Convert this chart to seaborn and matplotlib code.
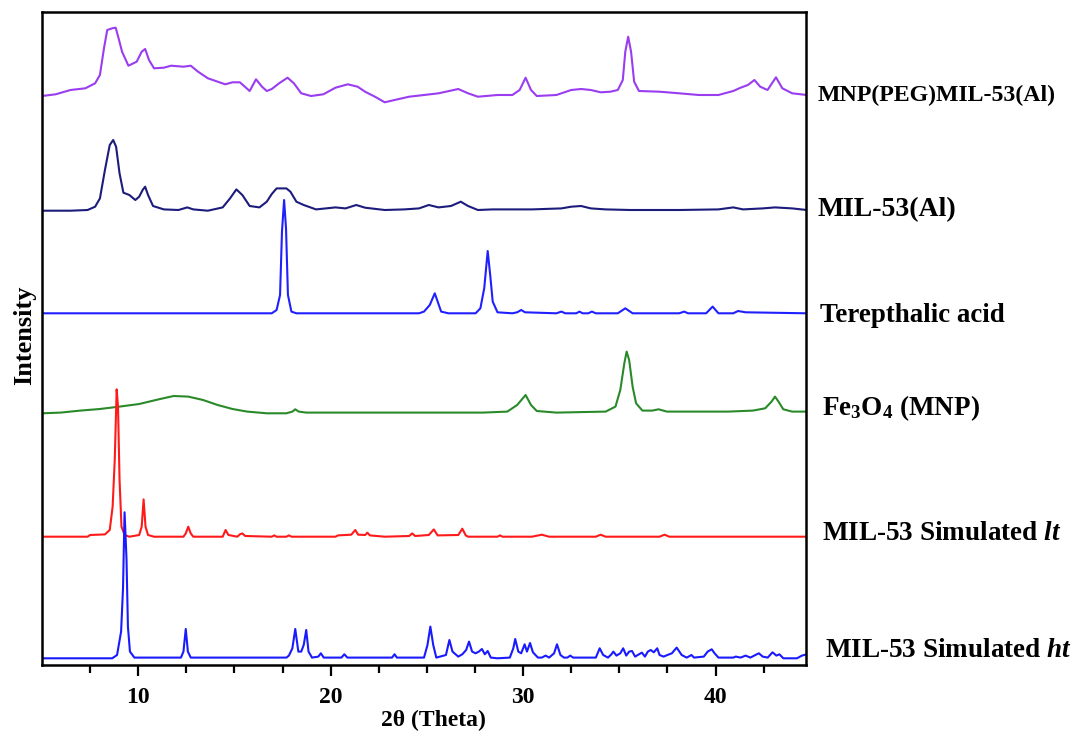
import numpy as np
import pandas as pd
import matplotlib
matplotlib.use("Agg")
import matplotlib.pyplot as plt
import seaborn as sns

# ---------------- data (2-theta in degrees, intensity in arbitrary units) ----------------
peg_x = [5.00, 5.71, 6.48, 7.25, 7.76, 8.01, 8.22, 8.39, 8.65, 8.83,
         8.98, 9.16, 9.49, 9.92, 10.18, 10.36, 10.56, 10.82, 11.33, 11.71,
         12.35, 12.73, 13.11, 13.62, 14.13, 14.52, 14.90, 15.28, 15.54, 15.79,
         16.12, 16.43, 16.68, 16.94, 17.32, 17.76, 18.09, 18.47, 18.98, 19.62,
         20.25, 20.89, 21.40, 21.79, 22.30, 22.81, 23.32, 24.08, 24.85, 25.61,
         26.63, 27.14, 27.65, 28.67, 29.44, 29.82, 30.13, 30.41, 30.71, 31.73,
         32.50, 33.01, 33.52, 34.03, 34.54, 34.92, 35.18, 35.31, 35.46, 35.61,
         35.77, 36.02, 37.09, 38.11, 39.13, 40.15, 40.92, 41.30, 41.68, 42.02,
         42.32, 42.70, 43.14, 43.47, 43.98, 44.74]
peg_y = [0, 1.7, 6, 7.7, 12.7, 21, 47.7, 66, 67.7, 68.3,
         57.7, 44.3, 30.3, 34.3, 44.3, 47, 36, 27.7, 28.3, 30.3,
         29.3, 30.3, 24.3, 17.7, 14.3, 11.7, 13.7, 13.7, 9.3, 5,
         16.7, 9.3, 5, 7, 12.7, 18.3, 12.7, 2.7, 0, 1.7,
         8.3, 11.7, 9.3, 4.3, -0.7, -6.3, -4, -0.7, 1, 2.7,
         7, 2.7, -0.7, 1, 1, 6, 18.3, 6, 0, 1,
         6, 7, 6, 3.7, 4.3, 6, 16, 44.3, 59.3, 44.3,
         14.3, 5, 4.3, 2.7, 1, 1, 5, 8.3, 11, 16,
         9.3, 6, 18.7, 7.7, 2.7, 1]

mil_x = [5.00, 6.48, 7.37, 7.76, 8.01, 8.27, 8.52, 8.70, 8.85, 9.03,
         9.23, 9.54, 9.85, 10.05, 10.23, 10.36, 10.51, 10.77, 11.33, 12.09,
         12.55, 12.86, 13.62, 14.39, 14.77, 15.10, 15.41, 15.79, 16.30, 16.68,
         16.94, 17.19, 17.70, 17.91, 18.22, 18.60, 19.24, 19.75, 20.25, 20.77,
         21.33, 21.79, 22.81, 23.83, 24.59, 25.10, 25.61, 26.25, 26.76, 27.14,
         27.65, 28.42, 30.46, 31.99, 32.50, 33.01, 33.52, 34.29, 35.56, 38.11,
         40.15, 40.92, 41.43, 42.45, 43.09, 43.98, 44.74]
mil_y = [0, 0, 0.7, 4, 12.3, 40.7, 65.7, 70.7, 64, 37.3,
         18, 15.7, 10.7, 14, 20.7, 24, 15.7, 4.7, 1.3, 0.7,
         3.3, 1.3, 0, 3.3, 12.3, 21.3, 15.7, 4.7, 3.3, 9,
         16.7, 22.3, 22.3, 19, 9, 5.7, 1.3, 2.3, 3.3, 2.3,
         5.7, 3, 0.7, 1.3, 2.3, 5.7, 3.3, 4.7, 9, 4.7,
         0.7, 1.3, 1.3, 2.3, 4, 4.7, 2.3, 1.3, 0.7, 0.7,
         1.3, 3.3, 1.3, 2.3, 3.3, 2.3, 0.7]

tpa_x = [5.00, 16.94, 17.19, 17.37, 17.47, 17.58, 17.68, 17.78, 17.96, 18.22,
         24.59, 24.85, 25.15, 25.41, 25.56, 25.74, 26.12, 27.53, 27.78, 27.98,
         28.16, 28.29, 28.42, 28.67, 29.44, 29.69, 29.90, 30.10, 31.73, 31.99,
         32.19, 32.76, 32.93, 33.09, 33.39, 33.57, 33.78, 34.92, 35.31, 35.69,
         38.11, 38.37, 38.57, 39.51, 39.85, 40.15, 40.92, 41.17, 41.56, 44.74]
tpa_y = [0, 0, 3.3, 18.3, 81.7, 113.3, 85, 18.3, 1.7, 0,
         0, 1.7, 8.3, 20, 11.7, 1.7, 0, 0, 5, 25,
         62.3, 38.3, 11.7, 1, 0, 1, 3.3, 1, 0, 1.7,
         0, 0, 1.7, 0, 0, 1.7, 0, 0, 5, 0,
         0, 1.7, 0, 0, 6.7, 0, 0, 2.3, 1, 0]

fe_x = [5.00, 5.97, 6.99, 8.01, 9.03, 10.05, 11.07, 11.84, 12.60, 13.37,
        14.13, 14.90, 15.66, 16.68, 17.70, 18.01, 18.16, 18.34, 18.73, 20.25,
        22.81, 25.36, 27.91, 29.18, 29.69, 30.13, 30.41, 30.71, 31.73, 34.29,
        34.80, 35.05, 35.26, 35.38, 35.51, 35.69, 35.87, 36.20, 36.71, 37.04,
        37.47, 38.62, 40.66, 41.94, 42.58, 42.91, 43.09, 43.27, 43.52, 43.98,
        44.74]
fe_y = [-1, -0.3, 1.7, 3.3, 5.7, 8.3, 13, 16.3, 15.7, 12.3,
        7.3, 3.3, 0.7, -1, -1, 0.7, 3, 0.7, -0.3, -0.3,
        -0.3, -0.3, -0.3, 0.7, 7.3, 17.3, 7.3, 1.3, -0.3, 0.7,
        5.7, 22.3, 49, 60.7, 52.3, 25.7, 9, 1.7, 1.7, 3,
        0.7, 0.7, 0.7, 1.7, 4, 10.7, 15.7, 10.7, 3, 0.7,
        0.7]

lt_x = [5.00, 7.37, 7.50, 8.27, 8.52, 8.67, 8.78, 8.88, 8.95, 9.03,
        9.13, 9.29, 9.54, 10.05, 10.18, 10.28, 10.38, 10.51, 10.82, 12.35,
        12.47, 12.60, 12.73, 12.86, 14.39, 14.54, 14.69, 15.15, 15.28, 15.41,
        15.56, 16.94, 17.07, 17.19, 17.70, 17.83, 17.96, 20.25, 20.38, 21.07,
        21.28, 21.43, 21.79, 21.91, 22.04, 22.81, 24.08, 24.24, 24.39, 25.10,
        25.36, 25.56, 26.63, 26.84, 27.02, 27.14, 28.67, 28.80, 28.93, 30.46,
        30.97, 31.35, 33.78, 34.03, 34.29, 37.09, 37.35, 37.60, 44.74]
lt_y = [0, 0, 1.7, 2.3, 6.7, 30, 76.7, 147.3, 130, 56.7,
        10, 1.7, 0, 1.7, 10, 37.3, 10, 1.7, 0, 0,
        3.3, 10, 3.3, 0, 0, 6.7, 1.7, 0, 2.3, 3.3,
        0.7, 0, 1.3, 0, 0, 1.3, 0, 0, 1.3, 2,
        6.7, 2, 1.7, 4, 1.3, 0, 0.7, 3.3, 0.7, 1.7,
        7.3, 1.3, 1.7, 8, 1.3, 0, 0, 1.3, 0, 0,
        2, 0, 0, 2, 0, 0, 2, 0, 0]

ht_x = [5.00, 8.65, 8.90, 9.11, 9.21, 9.29, 9.39, 9.465, 9.57, 9.80,
        12.22, 12.35, 12.47, 12.58, 12.73, 17.70, 17.83, 18.01, 18.16, 18.32,
        18.47, 18.60, 18.73, 18.85, 19.03, 19.36, 19.49, 19.64, 20.56, 20.71,
        20.87, 23.19, 23.32, 23.44, 24.85, 25.03, 25.18, 25.33, 25.49, 25.99,
        26.17, 26.33, 26.63, 26.84, 27.04, 27.19, 27.35, 27.53, 27.70, 27.86,
        28.01, 28.16, 28.32, 28.67, 29.31, 29.49, 29.59, 29.75, 29.90, 30.08,
        30.20, 30.36, 30.51, 30.77, 30.97, 31.17, 31.35, 31.61, 31.76, 31.94,
        32.12, 32.30, 32.45, 32.60, 33.78, 33.98, 34.16, 34.41, 34.59, 34.69,
        34.85, 35.05, 35.20, 35.36, 35.51, 35.66, 35.82, 36.02, 36.17, 36.33,
        36.48, 36.63, 36.79, 36.97, 37.09, 37.30, 37.50, 37.73, 37.98, 38.24,
        38.50, 38.75, 38.88, 39.39, 39.59, 39.80, 39.95, 40.15, 40.92, 41.05,
        41.30, 41.56, 41.81, 42.07, 42.25, 42.45, 42.71, 42.96, 43.16, 43.32,
        43.52, 44.23, 44.49, 44.74]
ht_y = [0, 0, 3.3, 26.7, 70, 146, 100, 31.7, 6.7, 0.7,
        0.7, 6.7, 29.3, 6.7, 0.7, 0.7, 2.7, 10, 29.3, 6.7,
        6.7, 13.3, 28.3, 6.7, 0.7, 1.7, 5, 0.7, 0.7, 4,
        0.7, 0.7, 4, 0.7, 0.7, 13.3, 31.7, 13.3, 0.7, 3.3,
        18.3, 6.7, 1.7, 4, 8.3, 16.7, 6.7, 5, 6.7, 9.3,
        4, 7.3, 0.7, 0, 0.7, 10, 19.3, 6.7, 5, 14,
        6.7, 15.3, 6, 0.7, 0.7, 2.7, 0.7, 5, 14, 3.3,
        0.7, 0.7, 2.7, 0.7, 0.7, 10, 3.3, 0.7, 4, 6.7,
        2.7, 5, 10, 2.7, 6.7, 7.3, 1.7, 4, 5.7, 1.7,
        6.7, 8.3, 6, 10, 3.3, 1.7, 3.3, 5, 10.7, 3.3,
        0.7, 3.3, 0.7, 1.7, 6.7, 9, 5, 0.7, 0.7, 1.7,
        0.7, 2.7, 0.7, 3.3, 5, 1.7, 0.7, 6, 2.7, 4,
        0, 0, 2.7, 4]

series_names = ["MNP(PEG)MIL-53(Al)", "MIL-53(Al)", "Terepthalic acid",
                "Fe$_3$O$_4$ (MNP)", "MIL-53 Simulated $lt$", "MIL-53 Simulated $ht$"]
series_offsets = [569, 454.3, 351.7, 252.7, 128.3, 6.7]
xticks_major = [10, 20, 30, 40]

# ---------------- style ----------------
sns.set_theme(style="ticks")
plt.rcParams["font.family"] = ["Liberation Serif", "DejaVu Serif"]
plt.rcParams["font.weight"] = "bold"
plt.rcParams["text.color"] = "black"
plt.rcParams["axes.labelcolor"] = "black"
plt.rcParams["xtick.color"] = "black"
plt.rcParams["ytick.color"] = "black"
plt.rcParams["mathtext.fontset"] = "custom"
plt.rcParams["mathtext.rm"] = "Liberation Serif:bold"
plt.rcParams["mathtext.it"] = "Liberation Serif:bold:italic"
plt.rcParams["mathtext.bf"] = "Liberation Serif:bold"

colors = ["#9a3cf0", "#1c1c7c", "#2020ff", "#2a8a2a", "#ff1a1a", "#1a1aff"]
xs = [peg_x, mil_x, tpa_x, fe_x, lt_x, ht_x]
ys = [peg_y, mil_y, tpa_y, fe_y, lt_y, ht_y]

fig = plt.figure(figsize=(10.78, 7.36), dpi=100)
ax = fig.add_axes([42 / 1078, 1 - 665 / 736, (806 - 42) / 1078, (665 - 12) / 736])

for name, x, y, off, c in zip(series_names, xs, ys, series_offsets, colors):
    df = pd.DataFrame({"two_theta": x, "intensity": off + np.asarray(y, dtype=float)})
    sns.lineplot(data=df, x="two_theta", y="intensity", ax=ax, color=c,
                 linewidth=1.5, estimator=None, sort=False)

ax.set_xlim(5, 44.7)
ax.set_ylim(0, 653)
ax.set_xticks(xticks_major)
ax.set_xticks(np.arange(7.5, 45, 2.5), minor=True)
ax.set_yticks([])
ax.tick_params(axis="x", which="major", direction="out", length=8, width=1.6,
               labelsize=17, pad=8, colors="black")
ax.tick_params(axis="x", which="minor", direction="out", length=5.5, width=1.6,
               colors="black")
for lbl in ax.get_xticklabels():
    lbl.set_fontweight("bold")
for sp in ax.spines.values():
    sp.set_visible(True)
    sp.set_linewidth(1.8)
    sp.set_color("black")

ax.set_xlabel("2θ (Theta)", fontsize=17, fontweight="bold", color="black")
ax.xaxis.set_label_coords(0.512, -0.068)
ax.set_ylabel("Intensity", fontsize=19, fontweight="bold", color="black")
ax.yaxis.set_label_coords(-0.008, 0.505)

label_x = [45.31, 45.31, 45.41, 45.52, 45.52, 45.67]
label_dy = [1, 0.7, -2, 4.5, 3.5, 8]
label_size = [17.2, 20, 19.4, 19.5, 19.5, 19.5]
for name, off, lx, dy, fs in zip(series_names, series_offsets, label_x, label_dy, label_size):
    ax.text(lx, off + dy, name, fontsize=fs, fontweight="bold", va="center",
            ha="left", clip_on=False, color="black")

fig.savefig("out.png", dpi=100)
